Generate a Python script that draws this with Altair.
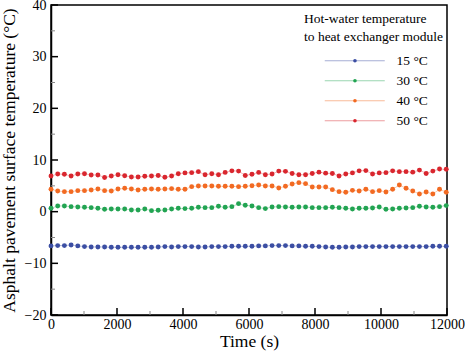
import altair as alt
import pandas as pd

SERIES = ["15 °C", "30 °C", "40 °C", "50 °C"]
COLORS = ["#3b4ea3", "#22a452", "#f26a22", "#d9262e"]

# sample times (s)
TIME = [i * 203 for i in range(60)]

T15 = [-6.63, -6.57, -6.57, -6.44, -6.63, -6.76, -6.83, -6.83, -6.83, -6.89,
       -6.89, -6.89, -6.89, -6.89, -6.89, -6.89, -6.83, -6.76, -6.83, -6.76,
       -6.76, -6.76, -6.83, -6.83, -6.76, -6.76, -6.76, -6.70, -6.70, -6.70,
       -6.70, -6.63, -6.63, -6.57, -6.57, -6.57, -6.63, -6.63, -6.70, -6.70,
       -6.76, -6.83, -6.89, -6.89, -6.83, -6.83, -6.76, -6.76, -6.76, -6.76,
       -6.76, -6.76, -6.76, -6.76, -6.76, -6.76, -6.76, -6.70, -6.70, -6.70]
T30 = [0.65, 1.10, 1.10, 0.97, 0.91, 0.85, 0.78, 0.65, 0.46, 0.52,
       0.52, 0.52, 0.33, 0.33, 0.52, 0.20, 0.26, 0.33, 0.52, 0.65,
       0.59, 0.65, 0.85, 0.78, 0.78, 1.04, 0.85, 0.97, 1.55, 1.23,
       1.10, 0.78, 0.59, 0.91, 0.97, 0.91, 0.85, 0.91, 0.91, 0.78,
       0.78, 0.78, 0.85, 0.78, 0.65, 0.52, 0.65, 0.65, 0.72, 0.91,
       0.46, 0.52, 0.65, 0.72, 0.78, 1.04, 0.91, 0.85, 0.97, 1.17]
T40 = [4.33, 4.00, 3.87, 3.87, 4.07, 4.07, 4.20, 4.39, 4.07, 4.00,
       4.39, 4.52, 4.39, 4.20, 4.33, 4.39, 4.33, 4.39, 4.45, 4.33,
       4.33, 4.84, 4.97, 4.97, 4.97, 4.91, 4.91, 4.91, 4.84, 4.91,
       5.03, 5.16, 4.97, 4.97, 4.58, 4.91, 5.36, 5.62, 5.42, 4.78,
       4.78, 4.78, 4.26, 3.87, 3.75, 4.13, 4.00, 4.33, 3.87, 4.07,
       3.81, 4.33, 5.16, 4.52, 4.00, 3.42, 3.81, 3.42, 4.33, 3.75]
T50 = [6.90, 7.30, 7.25, 6.90, 7.30, 7.35, 7.10, 7.10, 6.60, 6.90,
       7.15, 6.95, 6.70, 6.70, 6.85, 6.90, 7.00, 6.65, 6.90, 7.35,
       7.50, 7.55, 7.75, 7.15, 7.35, 7.15, 7.60, 7.90, 7.85, 7.00,
       7.25, 7.60, 7.15, 7.30, 7.85, 7.80, 7.40, 7.15, 7.15, 7.40,
       7.65, 7.45, 7.40, 6.90, 7.30, 7.50, 7.90, 7.95, 7.30, 7.50,
       7.55, 7.90, 7.75, 7.75, 7.65, 8.05, 7.40, 7.85, 8.25, 8.20]

Y_MAJOR = [-20, -10, 0, 10, 20, 30, 40]
Y_MINOR = [-15, -5, 5, 15, 25, 35]
X_MAJOR = [0, 2000, 4000, 6000, 8000, 10000, 12000]
X_MINOR = [1000, 3000, 5000, 7000, 9000, 11000]

rows = []
for name, vals in zip(SERIES, [T15, T30, T40, T50]):
    for t, v in zip(TIME, vals):
        rows.append({"time": t, "temp": v, "series": name})
df = pd.DataFrame(rows)

FONT = "Liberation Serif"
xscale = alt.Scale(domain=[0, 12000], nice=False, zero=False)
yscale = alt.Scale(domain=[-20, 40], nice=False, zero=False)
LEG_TITLE = ["Hot-water temperature", "to heat exchanger module"]

common_leg = dict(
    orient="none", legendX=253, legendY=7, title=LEG_TITLE,
    titleFont=FONT, titleFontSize=13.5, titleFontWeight="normal", titleColor="black",
    titleLineHeight=17.5, titleAnchor="start", titleAlign="left",
    titlePadding=11, labelFont=FONT, labelFontSize=13.5, labelColor="black",
    rowPadding=5, padding=0, labelOffset=35,
)

lines = alt.Chart(df).mark_line(strokeWidth=1, opacity=0.35).encode(
    x=alt.X("time:Q", scale=xscale, axis=alt.Axis(
        values=X_MAJOR, format="d", ticks=False, grid=False, labelPadding=2,
        labelFlush=False, labelOverlap=False,
        labelFont=FONT, labelFontSize=14, labelColor="black",
        domainColor="black", domainWidth=1.5,
        title="Time (s)", titleFont=FONT, titleFontSize=17.5,
        titleFontWeight="normal", titleColor="black",
        titleX=198, titleY=31.7, titleBaseline="alphabetic", titleAlign="center")),
    y=alt.Y("temp:Q", scale=yscale, axis=alt.Axis(
        values=Y_MAJOR, ticks=False, grid=False, labelPadding=5,
        labelFlush=False, labelOverlap=False,
        labelFont=FONT, labelFontSize=14, labelColor="black",
        domainColor="black", domainWidth=1.5,
        title="Asphalt pavement surface temperature (°C)", titleFont=FONT,
        titleFontSize=17.5, titleFontWeight="normal", titleColor="black",
        titleAngle=270, titleX=-37, titleY=155, titleBaseline="alphabetic",
        titleAlign="center")),
    color=alt.Color("series:N", scale=alt.Scale(domain=SERIES, range=COLORS),
                    legend=alt.Legend(symbolType="M-15,0H15", symbolSize=16,
                                      symbolStrokeWidth=1, symbolOpacity=0.45,
                                      symbolOffset=44, **common_leg)),
    detail="series:N",
)

points = alt.Chart(df).mark_point(filled=True, size=24, opacity=1).encode(
    x=alt.X("time:Q", scale=xscale),
    y=alt.Y("temp:Q", scale=yscale),
    fill=alt.Fill("series:N", scale=alt.Scale(domain=SERIES, range=COLORS),
                  legend=alt.Legend(symbolType="circle", symbolSize=13,
                                    symbolStrokeWidth=0, symbolOpacity=1,
                                    symbolOffset=44.2, labelOpacity=0,
                                    titleOpacity=0, **common_leg)),
)

def yticks(vals, length, color, width):
    return alt.Chart(pd.DataFrame({"v": vals})).mark_rule(color=color, strokeWidth=width).encode(
        y=alt.Y("v:Q", scale=yscale),
        x=alt.value(0), x2=alt.value(length))

def xticks(vals, length, color, width):
    return alt.Chart(pd.DataFrame({"v": vals})).mark_rule(color=color, strokeWidth=width).encode(
        x=alt.X("v:Q", scale=xscale),
        y=alt.value(310), y2=alt.value(310 - length))

chart = alt.layer(
    lines, points,
    yticks(Y_MINOR, 4, "#888888", 1),
    yticks(Y_MAJOR, 7, "black", 1.5),
    xticks(X_MINOR, 4, "#888888", 1),
    xticks(X_MAJOR, 7, "black", 1.5),
).resolve_scale(color="independent", fill="independent").properties(
    width=396, height=310,
    padding={"left": 51, "top": 5, "right": 18, "bottom": 39},
    autosize=alt.AutoSizeParams(type="none"),
    background="white",
).configure_view(stroke="black", strokeWidth=1.5)

chart.save("out.html", embed_options={"renderer": "svg", "actions": False})
